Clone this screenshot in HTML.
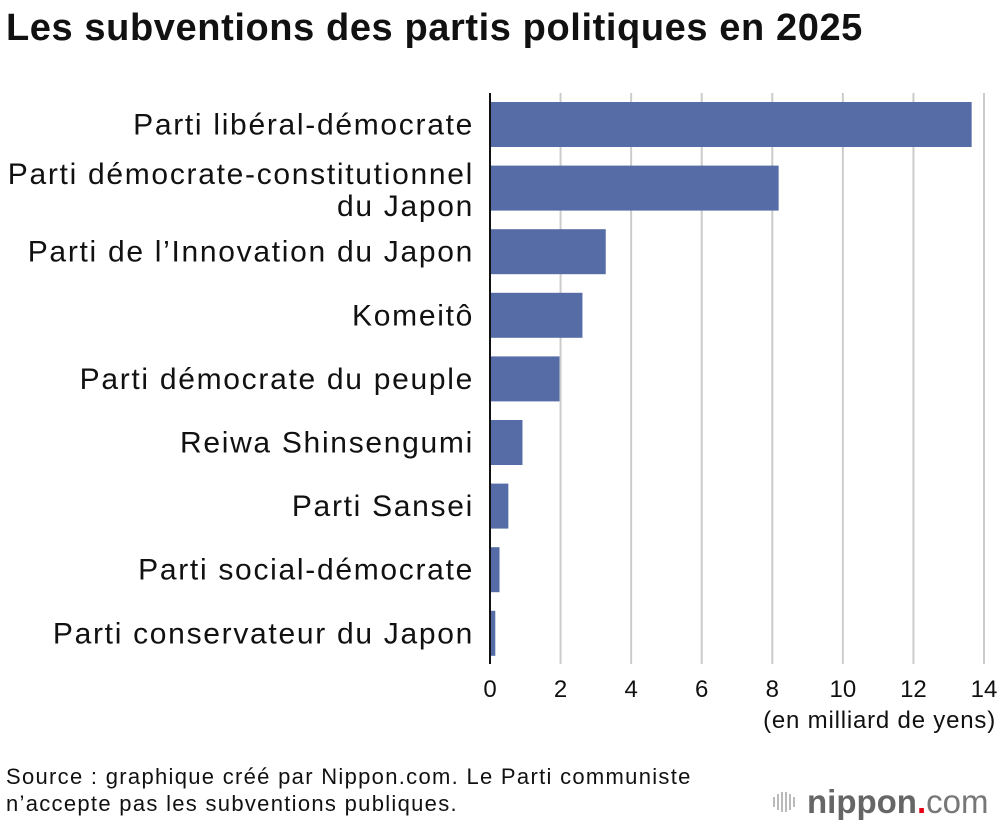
<!DOCTYPE html>
<html><head><meta charset="utf-8"><style>
body{margin:0;background:#fff;width:1000px;height:824px;overflow:hidden;font-family:"Liberation Sans",Arial,sans-serif}
</style></head><body>
<svg width="1000" height="824" viewBox="0 0 1000 824" xmlns="http://www.w3.org/2000/svg">
<text x="6" y="40" font-size="38" font-weight="bold" letter-spacing="0.6" fill="#111">Les subventions des partis politiques en 2025</text>
<g id="grid"></g>
<g id="bars"></g>
<g id="labels" font-size="30" letter-spacing="1.7" fill="#111" text-anchor="end"></g>
<g id="ticks" font-size="24" fill="#111" text-anchor="middle"></g>
<line x1="490" y1="93" x2="490" y2="664" stroke="#111" stroke-width="2"/>
<text x="996" y="728" font-size="24" letter-spacing="0.8" fill="#111" text-anchor="end">(en milliard de yens)</text>
<text x="6" y="784" font-size="22" letter-spacing="1.3" fill="#111">Source : graphique créé par Nippon.com. Le Parti communiste</text>
<text x="6" y="811" font-size="22" letter-spacing="1.3" fill="#111">n’accepte pas les subventions publiques.</text>
<g>
<g stroke="#bbb" stroke-width="2">
<line x1="774" y1="797" x2="774" y2="807"/><line x1="778" y1="794" x2="778" y2="810"/><line x1="782" y1="792" x2="782" y2="812"/><line x1="786" y1="792" x2="786" y2="812"/><line x1="790" y1="794" x2="790" y2="810"/><line x1="794" y1="797" x2="794" y2="807"/>
</g>
<text x="807" y="813" font-size="33" font-weight="bold" fill="#666">nippon<tspan fill="#e60012">.</tspan><tspan font-weight="normal" fill="#777">com</tspan></text>
</g>
</svg>
<script>
const categories=["Parti libéral-démocrate","Parti démocrate-constitutionnel|du Japon","Parti de l’Innovation du Japon","Komeitô","Parti démocrate du peuple","Reiwa Shinsengumi","Parti Sansei","Parti social-démocrate","Parti conservateur du Japon"];
const values=[13.65,8.18,3.28,2.62,1.97,0.92,0.52,0.27,0.15];
const tickValues=[0,2,4,6,8,10,12,14];
const NS="http://www.w3.org/2000/svg";
const x0=490,x1=984,xmax=14,top0=93,step=63.6;
function xs(v){return x0+(x1-x0)*v/xmax;}
function yc(i){return top0+9+22.5+i*step;}
function mk(t,a,p){const e=document.createElementNS(NS,t);for(const k in a)e.setAttribute(k,a[k]);p.appendChild(e);return e;}
const grid=document.getElementById('grid'),bars=document.getElementById('bars'),labels=document.getElementById('labels'),ticks=document.getElementById('ticks');
tickValues.forEach(t=>{
  if(t>0){const l=mk('line',{x1:xs(t),x2:xs(t),y1:top0,y2:664,stroke:'#ccc','stroke-width':2},grid);
  
  }
  const tx=mk('text',{x:xs(t),y:697},ticks);tx.textContent=t;
  
  
});
values.forEach((v,i)=>{
  const r=mk('rect',{x:x0,y:yc(i)-22.5,width:xs(v)-x0,height:45,fill:'#566ca6'},bars);
  
  
  const parts=categories[i].split('|');
  const tx=mk('text',{x:474,y:parts.length>1?yc(i)-4:yc(i)+10},labels);
  
  
  parts.forEach((p,j)=>{const s=mk('tspan',{x:474,dy:j?32:0},tx);s.textContent=p;});
});
</script>
</body></html>
